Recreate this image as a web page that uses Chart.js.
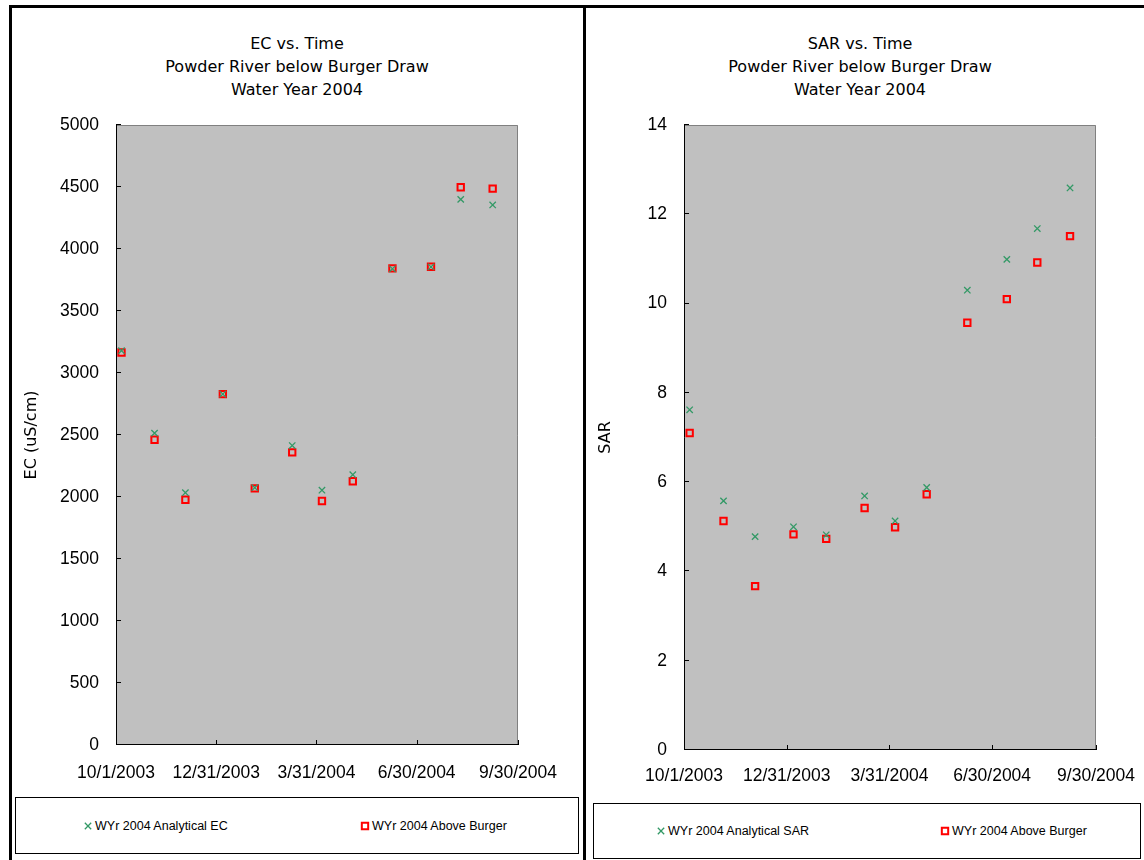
<!DOCTYPE html>
<html>
<head>
<meta charset="utf-8">
<script src="https://cdn.jsdelivr.net/npm/chart.js@4.4.0/dist/chart.umd.min.js"></script>
<style>
  body { margin: 0; background: #fff; width: 1144px; height: 860px; position: relative; overflow: hidden; }
  .rule { position: absolute; background: #000; }
  canvas.chart { position: absolute; }
  .title { position: absolute; text-align: center; font: 16px "DejaVu Sans", sans-serif; line-height: 23px; color: #000; }
  .legend { position: absolute; border: 1px solid #000; box-sizing: border-box; background: #fff; }
  .legend .item { position: absolute; top: 50%; transform: translateY(-50%); display: flex; align-items: center;
                  font: 12.5px "Liberation Sans", Arial, sans-serif; color: #000; white-space: nowrap; }
  .legend .item canvas { margin-right: 1px; }
</style>
</head>
<body>
<div class="rule" style="left:9px;top:5px;width:1135px;height:3px"></div>
<div class="rule" style="left:9px;top:5px;width:3px;height:855px"></div>
<div class="rule" style="left:583px;top:5px;width:3px;height:855px"></div>

<div class="title" id="ecTitle" style="left:11px;top:32px;width:572px"></div>
<div class="title" id="sarTitle" style="left:586px;top:32px;width:548px"></div>

<canvas class="chart" id="ecChart" width="572" height="784" style="left:11px;top:7px"></canvas>
<canvas class="chart" id="sarChart" width="566" height="784" style="left:586px;top:7px"></canvas>

<div class="legend" id="ecLegend" style="left:15px;top:797px;width:564px;height:57px"></div>
<div class="legend" id="sarLegend" style="left:593px;top:803px;width:548px;height:56px"></div>

<script>
// sample dates (Water Year 2004)
const sampleDates = ['10/6/2003', '11/5/2003', '12/3/2003', '1/6/2004', '2/4/2004', '3/9/2004',
                     '4/5/2004', '5/3/2004', '6/8/2004', '7/13/2004', '8/9/2004', '9/7/2004'];
const tickDates = ['10/1/2003', '12/31/2003', '3/31/2004', '6/30/2004', '9/30/2004'];

const ecAnalytical = [3180, 2515, 2035, 2830, 2075, 2415, 2055, 2180, 3840, 3855, 4400, 4355];
const ecAbove      = [3165, 2462, 1978, 2830, 2070, 2360, 1968, 2127, 3844, 3857, 4498, 4487];

const sarAnalytical = [7.62, 5.58, 4.78, 5.00, 4.82, 5.69, 5.13, 5.88, 10.30, 10.99, 11.68, 12.59];
const sarAbove      = [7.10, 5.13, 3.67, 4.83, 4.73, 5.42, 4.99, 5.73, 9.57, 10.10, 10.92, 11.51];

const ecTitle = ['EC vs. Time', 'Powder River below Burger Draw', 'Water Year 2004'];
const sarTitle = ['SAR vs. Time', 'Powder River below Burger Draw', 'Water Year 2004'];

// days since start of water year
function dayOf(s) {
  const [m, d, y] = s.split('/').map(Number);
  return (Date.UTC(y, m - 1, d) - Date.UTC(2003, 9, 1)) / 86400000;
}
const tickDays = tickDates.map(dayOf);

document.getElementById('ecTitle').innerHTML = ecTitle.join('<br>');
document.getElementById('sarTitle').innerHTML = sarTitle.join('<br>');

Chart.defaults.font.family = '"Liberation Sans", Arial, sans-serif';
Chart.defaults.color = '#000';

// grey plot area, axis lines and inside tick marks
const plotFrame = {
  id: 'plotFrame',
  beforeDatasetsDraw(chart) {
    const {ctx, chartArea: a, scales} = chart;
    ctx.save();
    ctx.fillStyle = '#c0c0c0';
    ctx.fillRect(a.left, a.top, a.right - a.left, a.bottom - a.top);
    ctx.lineWidth = 1;
    ctx.strokeStyle = '#808080';
    ctx.beginPath();
    ctx.moveTo(a.left, a.top + 0.5);
    ctx.lineTo(a.right - 0.5, a.top + 0.5);
    ctx.lineTo(a.right - 0.5, a.bottom);
    ctx.stroke();
    ctx.strokeStyle = '#000';
    ctx.beginPath();
    ctx.moveTo(a.left + 0.5, a.top);
    ctx.lineTo(a.left + 0.5, a.bottom - 0.5);
    ctx.lineTo(a.right, a.bottom - 0.5);
    scales.y.ticks.forEach(t => {
      const py = Math.round(scales.y.getPixelForValue(t.value)) - 0.5;
      ctx.moveTo(a.left, py);
      ctx.lineTo(a.left + 5, py);
    });
    scales.x.ticks.forEach(t => {
      const px = Math.round(scales.x.getPixelForValue(t.value)) + 0.5;
      ctx.moveTo(px, a.bottom);
      ctx.lineTo(px, a.bottom - 5);
    });
    ctx.stroke();
    ctx.restore();
  }
};

function makeChart(id, o) {
  return new Chart(document.getElementById(id), {
    type: 'scatter',
    data: {
      datasets: [
        {
          label: o.labels[0],
          data: sampleDates.map((d, i) => ({x: dayOf(d), y: o.analytical[i]})),
          pointStyle: 'crossRot', pointRadius: 4.5, pointHoverRadius: 4.5,
          borderColor: '#339966', backgroundColor: '#339966', borderWidth: 1.3
        },
        {
          label: o.labels[1],
          data: sampleDates.map((d, i) => ({x: dayOf(d), y: o.above[i]})),
          pointStyle: 'rect', pointRadius: 4.5, pointHoverRadius: 4.5,
          borderColor: '#ff0000', backgroundColor: 'rgba(0,0,0,0)', borderWidth: 2
        }
      ]
    },
    options: {
      responsive: false,
      animation: false,
      devicePixelRatio: 1,
      layout: {padding: {top: 118, right: o.padRight, left: 0, bottom: 0}},
      plugins: {legend: {display: false}, tooltip: {enabled: false}},
      scales: {
        x: {
          type: 'linear', min: 0, max: 365,
          grid: {display: false, drawTicks: false},
          border: {display: false},
          afterBuildTicks: s => { s.ticks = tickDays.map(v => ({value: v})); },
          ticks: {
            autoSkip: false, maxRotation: 0, minRotation: 0,
            padding: o.xPad, font: {size: 17.5}, color: '#000',
            callback: (v, i) => tickDates[i]
          },
          afterFit: s => { s.height = o.xHeight; }
        },
        y: {
          min: 0, max: o.yMax,
          grid: {display: false, drawTicks: false},
          border: {display: false},
          ticks: {stepSize: o.yStep, padding: 17, font: {size: 17.5}, color: '#000', callback: v => String(v)},
          title: {
            display: true, text: o.yTitle, color: '#000',
            font: {family: '"DejaVu Sans", sans-serif', size: 16},
            padding: {top: o.yTitlePad, bottom: 0}
          },
          afterFit: s => { s.width = o.yWidth; }
        }
      }
    },
    plugins: [plotFrame]
  });
}

const ecChart = makeChart('ecChart', {
  analytical: ecAnalytical, above: ecAbove,
  labels: ['WYr 2004 Analytical EC', 'WYr 2004 Above Burger'],
  yMax: 5000, yStep: 500, yTitle: 'EC (uS/cm)', yTitlePad: 11.4,
  yWidth: 105, xHeight: 46, xPad: 17.5, padRight: 65
});

const sarChart = makeChart('sarChart', {
  analytical: sarAnalytical, above: sarAbove,
  labels: ['WYr 2004 Analytical SAR', 'WYr 2004 Above Burger'],
  yMax: 14, yStep: 2, yTitle: 'SAR', yTitlePad: 10.4,
  yWidth: 98, xHeight: 41, xPad: 16, padRight: 56
});

// legend boxes below each chart, markers drawn with Chart.js point helper
function buildLegend(boxId, chart, xs) {
  const box = document.getElementById(boxId);
  chart.data.datasets.forEach((ds, i) => {
    const item = document.createElement('div');
    item.className = 'item';
    item.style.left = (xs[i] - 6) + 'px';
    const c = document.createElement('canvas');
    c.width = 12; c.height = 12;
    const ctx = c.getContext('2d');
    ctx.strokeStyle = ds.borderColor;
    ctx.fillStyle = 'rgba(0,0,0,0)';
    ctx.lineWidth = ds.borderWidth;
    Chart.helpers.drawPoint(ctx, {pointStyle: ds.pointStyle, radius: ds.pointRadius, rotation: 0, borderWidth: ds.borderWidth}, 6, 6);
    item.appendChild(c);
    const t = document.createElement('span');
    t.textContent = ds.label;
    item.appendChild(t);
    box.appendChild(item);
  });
}
buildLegend('ecLegend', ecChart, [72, 349]);
buildLegend('sarLegend', sarChart, [67, 351]);
</script>
</body>
</html>
